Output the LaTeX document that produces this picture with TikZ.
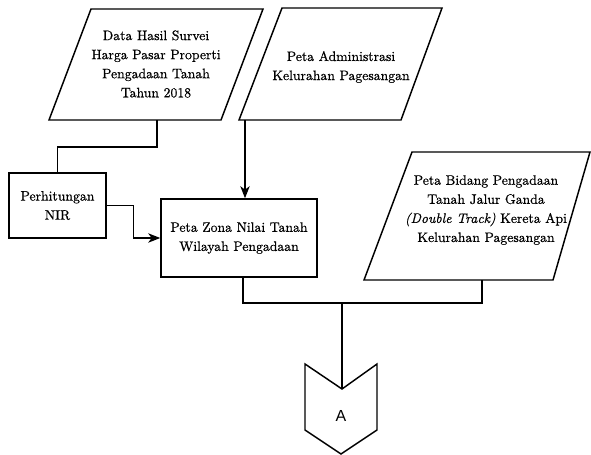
\documentclass[tikz,border=0pt]{standalone}
\usepackage{fontspec}
\newfontfamily\rmheavy{Latin Modern Roman}[FakeBold=0.6]
\newfontfamily\arialfont{Liberation Sans}
\usetikzlibrary{arrows.meta}
\begin{document}
\begin{tikzpicture}[x=0.75pt,y=-0.75pt,
  shapeline/.style={draw=black, line width=1.1pt, line join=miter},
  txt/.style={align=center, font=\rmheavy\fontsize{10.3}{14.3}\selectfont, inner sep=0pt},
  procbox/.style={draw=black, line width=1.1pt, align=center, inner sep=0pt, font=\rmheavy\fontsize{10.3}{14.3}\selectfont},
  conn/.style={draw=black, line width=1.1pt},
  arr/.style={conn, -{Stealth[length=9pt,width=7pt,inset=2.5pt]}}]
\useasboundingbox (0,0) rectangle (591,454);

% input parallelograms
\draw[shapeline] (91,9) -- (263,9) -- (221,120) -- (49,120) -- cycle;
\node[txt] (survei) at (156,64) {Data Hasil Survei\\Harga Pasar Properti\\Pengadaan Tanah\\Tahun 2018};
\coordinate (survB) at (157,120);

\draw[shapeline] (282,8) -- (442,8) -- (401,120) -- (239,120) -- cycle;
\node[txt] (admin) at (341,67) {Peta Administrasi\\Kelurahan Pagesangan};
\coordinate (adminB) at (245,120);

\draw[shapeline] (412,152) -- (590,152) -- (553,280) -- (364,280) -- cycle;
\node[txt] (bidang) at (486,210) {Peta Bidang Pengadaan\\Tanah Jalur Ganda\\\textit{(Double Track)} Kereta Api\\Kelurahan Pagesangan};
\coordinate (bidangB) at (482,280);

% process boxes
\node[procbox, minimum width=72.75pt, minimum height=48.75pt] (nir) at (57.5,205.5) {Perhitungan\\NIR};
\node[procbox, minimum width=117pt, minimum height=58.5pt] (zona) at (239,238) {Peta Zona Nilai Tanah\\Wilayah Pengadaan};
\coordinate (zonaB) at (243,277);

% off-page connector
\draw[shapeline] (305,364) -- (342,389) -- (377,364) -- (377,430) -- (341,454) -- (305,430) -- cycle;
\node[font=\arialfont\fontsize{12}{14}\selectfont, inner sep=0pt] (offA) at (341,416) {A};
\coordinate (notch) at (342,389);
\coordinate (junc) at (342,303);

% connectors
\draw[conn] (survB) -- ++(0,27) -| (nir.north);
\draw[arr] (nir.east) -- ++(27,0) |- (zona.west);
\draw[arr] (adminB) -- (adminB |- zona.north);
\draw[conn] (zonaB) -- (zonaB |- junc) -- (bidangB |- junc) -- (bidangB);
\draw[conn] (junc) -- (notch);
\end{tikzpicture}
\end{document}
